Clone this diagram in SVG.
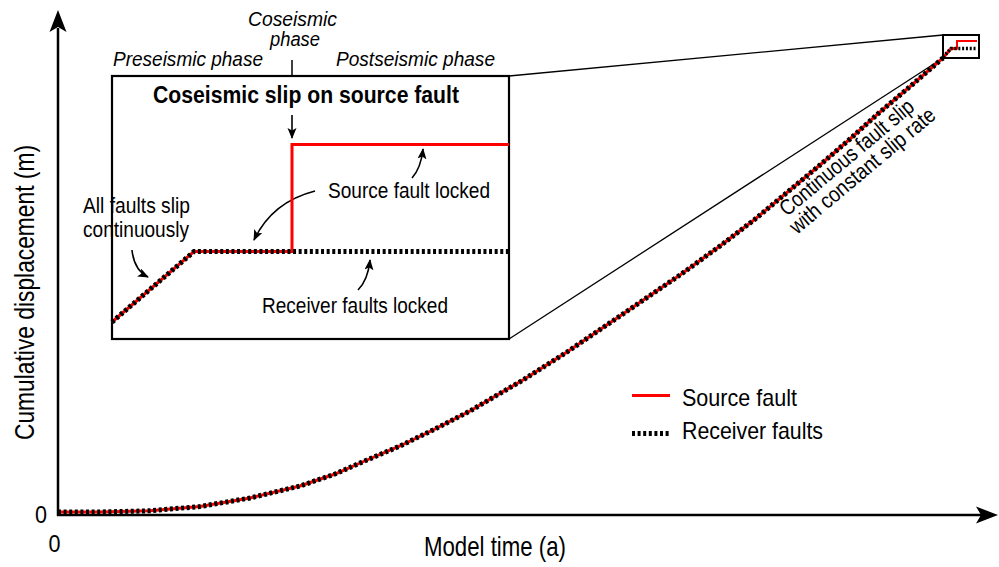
<svg xmlns="http://www.w3.org/2000/svg" width="999" height="567" viewBox="0 0 999 567">
<style>
text{font-family:"Liberation Sans Narrow","Liberation Sans",Arial,sans-serif;fill:#000}
.it{font-style:italic;font-size:21px}
.lb{font-size:22px}
.src{fill:none;stroke:#ff0000;stroke-width:3}
.rcv{fill:none;stroke:#000;stroke-width:5;stroke-dasharray:3 2.6}
.thin{fill:none;stroke:#000;stroke-width:1.3}
.ax{fill:none;stroke:#000;stroke-width:2.5}
.arr{fill:none;stroke:#000;stroke-width:1.6;marker-end:url(#ah)}
</style>
<defs>
<marker id="ah" markerUnits="userSpaceOnUse" markerWidth="12" markerHeight="10" refX="10" refY="4.5" orient="auto">
<path d="M0,0 L11,4.5 L0,9 L2.5,4.5 z" fill="#000"/>
</marker>
</defs>
<g id="axes">
<line class="ax" x1="58" y1="28" x2="58" y2="516"/>
<line class="ax" x1="57" y1="515" x2="982" y2="515"/>
<polygon points="58,10 66.5,32 58,27 49.5,32" fill="#000"/>
<polygon points="998,515 976,506.5 981,515 976,523.5" fill="#000"/>
<text x="35" y="523" font-size="24" textLength="12" lengthAdjust="spacingAndGlyphs">0</text>
<text x="48.5" y="551.5" font-size="24" textLength="12" lengthAdjust="spacingAndGlyphs">0</text>
<text x="424" y="556" font-size="28" textLength="142" lengthAdjust="spacingAndGlyphs">Model time (a)</text>
<text transform="translate(33.5,440) rotate(-90)" font-size="28" textLength="295" lengthAdjust="spacingAndGlyphs">Cumulative displacement (m)</text>
</g>
<g id="connectors">
<line class="thin" x1="509" y1="76" x2="943" y2="35"/>
<line class="thin" x1="509" y1="339" x2="943" y2="58"/>
<path class="arr" d="M292,115 L292,138"/>
<path class="arr" d="M132,250 Q134,270 148,277"/>
<path class="arr" d="M315,191 Q272,202 254,240"/>
<path class="arr" d="M412,178 Q421,168 423,149"/>
<path class="arr" d="M358,290 Q368,280 370,260"/>
</g>
<g id="main-curve">
<path class="src" d="M58,512 L100,512 L150,510.8 L200,506.5 L250,498 L300,486 L335,474 L367,460 L400,446 L433,430 L470,411 L523,380 L567,352 L620,316 L680,275 L720,246 L754,220 L790,190 L820,165 L850,139 L880,112 L913,84 L943,58 L951,48.5 L957,48.5"/>
<path class="rcv" d="M58,512 L100,512 L150,510.8 L200,506.5 L250,498 L300,486 L335,474 L367,460 L400,446 L433,430 L470,411 L523,380 L567,352 L620,316 L680,275 L720,246 L754,220 L790,190 L820,165 L850,139 L880,112 L913,84 L943,58"/>
</g>
<g id="mini-box">
<path fill="none" stroke="#ff0000" stroke-width="2" d="M951,48.5 L957,48.5 L957,41 L977,41"/>
<path fill="none" stroke="#000" stroke-width="3.5" stroke-dasharray="2 1.8" d="M943,57 L951,48.5 L977,48.5"/>
<rect x="943" y="35" width="36" height="23" fill="none" stroke="#000" stroke-width="2"/>
</g>
<g id="inset">
<rect x="112" y="76" width="397" height="263" fill="none" stroke="#000" stroke-width="2.2"/>
<line x1="292" y1="60" x2="292" y2="76" stroke="#000" stroke-width="1.5"/>
<path class="src" d="M112,322 L194,251.5 L292,251.5 L292,144.5 L509,144.5"/>
<path class="rcv" d="M112,322 L194,251.5 L509,251.5"/>
<text class="it" x="248" y="25.5" font-size="20" textLength="89" lengthAdjust="spacingAndGlyphs" style="font-size:20px">Coseismic</text>
<text class="it" x="270" y="46" textLength="50" lengthAdjust="spacingAndGlyphs" style="font-size:20px">phase</text>
<text class="it" x="113" y="65.5" textLength="150" lengthAdjust="spacingAndGlyphs">Preseismic phase</text>
<text class="it" x="336" y="65.5" textLength="159" lengthAdjust="spacingAndGlyphs">Postseismic phase</text>
<text x="153" y="103" font-size="23" font-weight="bold" textLength="306" lengthAdjust="spacingAndGlyphs">Coseismic slip on source fault</text>
<text class="lb" x="83" y="213" textLength="107" lengthAdjust="spacingAndGlyphs">All faults slip</text>
<text class="lb" x="83" y="236.5" textLength="106" lengthAdjust="spacingAndGlyphs">continuously</text>
<text class="lb" x="328" y="198" textLength="162" lengthAdjust="spacingAndGlyphs">Source fault locked</text>
<text class="lb" x="262" y="313" textLength="186" lengthAdjust="spacingAndGlyphs">Receiver faults locked</text>
</g>
<g id="slope-label">
<text transform="translate(787,217) rotate(-40)" font-size="22" textLength="168" lengthAdjust="spacingAndGlyphs">Continuous fault slip</text>
<text transform="translate(797,235) rotate(-40)" font-size="22" textLength="183" lengthAdjust="spacingAndGlyphs">with constant slip rate</text>
</g>
<g id="legend">
<line class="src" x1="632" y1="395.5" x2="670" y2="395.5"/>
<line class="rcv" x1="632" y1="433.5" x2="670" y2="433.5"/>
<text x="682" y="406" font-size="24" textLength="115" lengthAdjust="spacingAndGlyphs">Source fault</text>
<text x="682" y="438.5" font-size="24" textLength="141" lengthAdjust="spacingAndGlyphs">Receiver faults</text>
</g>
</svg>
